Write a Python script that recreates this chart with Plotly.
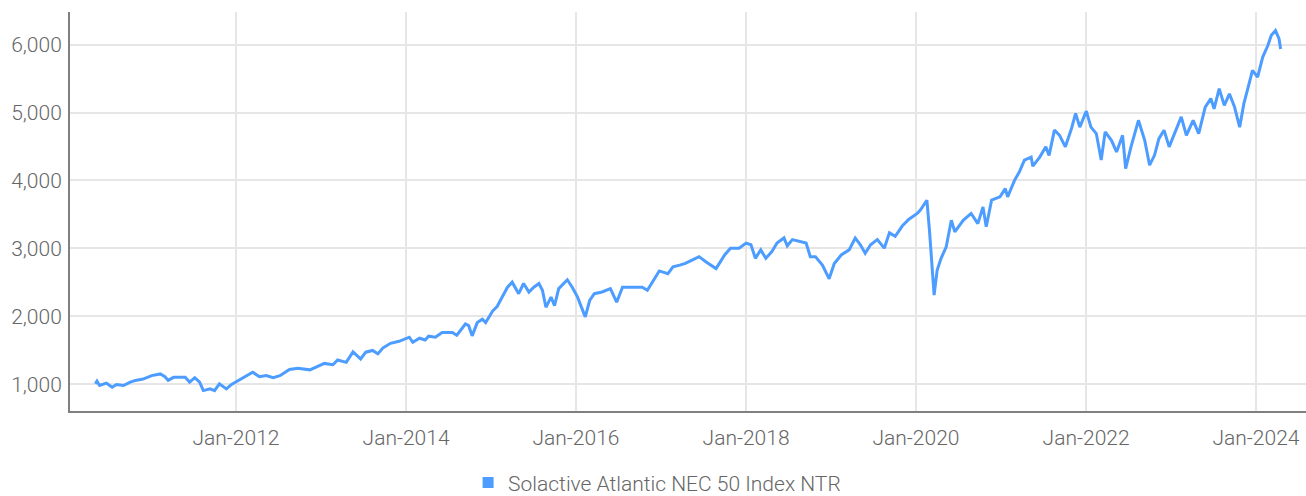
import plotly.graph_objects as go

series_name = "Solactive Atlantic NEC 50 Index NTR"

dates = [
    "2010-05-07", "2010-05-14", "2010-05-25", "2010-06-23", "2010-07-18", "2010-08-06", "2010-09-05",
    "2010-10-04", "2010-10-26", "2010-11-28", "2011-01-04", "2011-02-10", "2011-03-02", "2011-03-16",
    "2011-04-08", "2011-05-04", "2011-05-28", "2011-06-16", "2011-07-08", "2011-07-29", "2011-08-14",
    "2011-09-12", "2011-10-01", "2011-10-22", "2011-11-21", "2011-12-13", "2012-01-01", "2012-02-03",
    "2012-03-13", "2012-04-11", "2012-05-10", "2012-06-09", "2012-07-08", "2012-08-18", "2012-09-23",
    "2012-11-14", "2012-12-24", "2013-01-15", "2013-02-21", "2013-03-13", "2013-04-19", "2013-05-18",
    "2013-06-20", "2013-07-12", "2013-08-10", "2013-09-02", "2013-09-23", "2013-10-26", "2013-12-02",
    "2014-01-15", "2014-01-30", "2014-02-28", "2014-03-24", "2014-04-08", "2014-05-07", "2014-06-05",
    "2014-07-19", "2014-08-07", "2014-09-13", "2014-09-27", "2014-10-12", "2014-11-03", "2014-11-25",
    "2014-12-09", "2015-01-08", "2015-01-28", "2015-02-14", "2015-03-13", "2015-04-02", "2015-04-30",
    "2015-05-21", "2015-06-13", "2015-07-04", "2015-07-26", "2015-08-10", "2015-08-25", "2015-09-16",
    "2015-10-01", "2015-10-19", "2015-11-25", "2015-12-16", "2016-01-08", "2016-01-22", "2016-02-10",
    "2016-02-29", "2016-03-20", "2016-04-22", "2016-05-28", "2016-06-24", "2016-07-19", "2016-09-02",
    "2016-10-12", "2016-11-03", "2016-12-02", "2016-12-24", "2017-01-30", "2017-02-21", "2017-03-22",
    "2017-04-15", "2017-05-14", "2017-06-13", "2017-07-12", "2017-08-25", "2017-10-01", "2017-10-26",
    "2017-12-02", "2018-01-01", "2018-01-22", "2018-02-10", "2018-03-05", "2018-03-27", "2018-04-22",
    "2018-05-14", "2018-06-13", "2018-06-27", "2018-07-19", "2018-08-18", "2018-09-16", "2018-10-04",
    "2018-10-26", "2018-11-25", "2018-12-24", "2019-01-15", "2019-02-14", "2019-03-20", "2019-04-15",
    "2019-05-07", "2019-05-28", "2019-06-20", "2019-07-19", "2019-08-18", "2019-09-09", "2019-10-04",
    "2019-11-03", "2019-12-02", "2020-01-08", "2020-01-20", "2020-02-17", "2020-02-28", "2020-03-13",
    "2020-03-19", "2020-04-01", "2020-04-18", "2020-05-10", "2020-06-01", "2020-06-16", "2020-07-22",
    "2020-08-25", "2020-09-23", "2020-10-15", "2020-10-29", "2020-11-21", "2020-12-27", "2021-01-19",
    "2021-01-29", "2021-02-28", "2021-03-20", "2021-04-11", "2021-05-10", "2021-05-17", "2021-06-16",
    "2021-07-12", "2021-07-26", "2021-08-18", "2021-09-09", "2021-10-04", "2021-10-30", "2021-11-17",
    "2021-12-05", "2022-01-02", "2022-01-22", "2022-02-14", "2022-03-07", "2022-03-24", "2022-04-20",
    "2022-05-12", "2022-06-07", "2022-06-20", "2022-07-13", "2022-08-14", "2022-09-10", "2022-10-01",
    "2022-10-22", "2022-11-10", "2022-12-02", "2022-12-24", "2023-01-22", "2023-02-14", "2023-03-08",
    "2023-04-06", "2023-04-30", "2023-05-28", "2023-06-21", "2023-07-05", "2023-07-27", "2023-08-18",
    "2023-09-09", "2023-10-01", "2023-10-23", "2023-11-10", "2023-11-25", "2023-12-17", "2024-01-08",
    "2024-01-30", "2024-02-21", "2024-03-07", "2024-03-25", "2024-04-09", "2024-04-16",
]

values = [
    1010, 1050, 985, 1020, 960, 1000, 985,
    1035, 1060, 1080, 1130, 1155, 1115, 1060,
    1105, 1100, 1105, 1035, 1100, 1035, 910,
    935, 910, 1010, 935, 1000, 1035, 1100,
    1180, 1115, 1130, 1100, 1130, 1220, 1240,
    1215, 1280, 1310, 1290, 1360, 1325, 1480,
    1375, 1475, 1500, 1450, 1535, 1605, 1635,
    1695, 1620, 1680, 1655, 1710, 1695, 1765,
    1765, 1725, 1890, 1865, 1715, 1910, 1960,
    1910, 2080, 2150, 2260, 2430, 2505, 2335,
    2485, 2360, 2430, 2485, 2385, 2135, 2285,
    2160, 2410, 2540, 2430, 2285, 2160, 1995,
    2235, 2335, 2360, 2410, 2210, 2430, 2430,
    2430, 2385, 2555, 2670, 2630, 2730, 2755,
    2780, 2830, 2880, 2805, 2705, 2905, 3005,
    3005, 3080, 3055, 2855, 2980, 2855, 2955,
    3080, 3155, 3040, 3130, 3105, 3080, 2880,
    2880, 2755, 2555, 2780, 2905, 2980, 3155,
    3055, 2930, 3055, 3130, 3005, 3230, 3180,
    3330, 3430, 3520, 3565, 3710, 3270, 2535,
    2315, 2680, 2855, 3025, 3415, 3245, 3415,
    3515, 3365, 3610, 3320, 3710, 3760, 3880,
    3760, 4005, 4125, 4300, 4345, 4210, 4345,
    4495, 4370, 4740, 4665, 4495, 4760, 4985,
    4785, 5020, 4785, 4690, 4300, 4715, 4590,
    4420, 4665, 4175, 4495, 4885, 4590, 4225,
    4370, 4615, 4740, 4495, 4740, 4935, 4665,
    4885, 4690, 5080, 5205, 5055, 5350, 5105,
    5275, 5080, 4785, 5130, 5325, 5620, 5520,
    5815, 5985, 6135, 6205, 6085, 5935,
]

y_ticks = [1000, 2000, 3000, 4000, 5000, 6000]

LINE_COLOR = "#4d9cff"
TEXT_COLOR = "#666666"
GRID_COLOR = "#e6e6e6"
FONT = "Roboto, 'Noto Sans', sans-serif"

fig = go.Figure()
fig.add_trace(go.Scatter(
    x=dates, y=values, mode="lines", name=series_name,
    line=dict(color=LINE_COLOR, width=3), showlegend=False,
))
# legend entry with square marker
fig.add_trace(go.Scatter(
    x=[None], y=[None], mode="markers", name=series_name,
    marker=dict(symbol="square", size=11, color=LINE_COLOR),
    showlegend=True,
))

fig.update_layout(
    width=1306, height=496,
    margin=dict(l=70, r=0, t=12, b=85, autoexpand=False),
    paper_bgcolor="white", plot_bgcolor="white",
    font=dict(family=FONT, size=21, color=TEXT_COLOR, weight=300),
    legend=dict(orientation="h", x=0.475, xanchor="center", y=-0.18, yanchor="middle",
                font=dict(size=21, color=TEXT_COLOR, weight=300), itemwidth=30),
    xaxis=dict(
        type="date", range=["2010-01-18", "2024-08-03"],
        tick0="2012-01-01", dtick="M24", tickformat="%b-%Y",
        showgrid=True, gridcolor=GRID_COLOR, gridwidth=2,
        showline=True, linecolor="#808080", linewidth=2,
        ticks="", ticklen=0, ticklabelstandoff=7, zeroline=False, automargin=False,
    ),
    yaxis=dict(
        range=[610, 6478], tickvals=y_ticks, tickformat=",",
        showgrid=True, gridcolor=GRID_COLOR, gridwidth=2,
        showline=True, linecolor="#808080", linewidth=2,
        ticks="", ticklen=0, ticklabelstandoff=2, zeroline=False, automargin=False,
    ),
)

fig.write_html(
    "out.html",
    config={"displayModeBar": False},
    post_script="document.body.style.margin='0';document.body.style.padding='0';",
)
